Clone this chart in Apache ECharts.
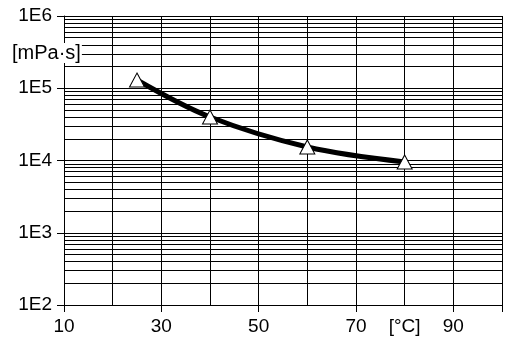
<!DOCTYPE html>
<html>
<head>
<meta charset="utf-8">
<script src="https://cdn.jsdelivr.net/npm/echarts@6/dist/echarts.min.js"></script>
<style>html,body{margin:0;padding:0;background:#fff;}#c{width:505px;height:343px;}</style>
</head>
<body>
<div id="c"></div>
<script>
// Data
const temperatures = [25, 40, 60, 80];          // [°C]
const viscosity = [130000, 40000, 15400, 9550];  // [mPa·s]
const xLabels = {10: '10', 30: '30', 50: '50', 70: '70', 80: '[°C]', 90: '90'};
const yUnit = '[mPa·s]';
const decades = [2, 3, 4, 5];
const minorMultipliers = [2, 3, 4, 5, 6, 7, 8, 9];

const minorValues = [];
decades.forEach(d => minorMultipliers.forEach(m => minorValues.push(m * Math.pow(10, d))));

const FONT = '"Liberation Sans", Arial, sans-serif';
const chart = echarts.init(document.getElementById('c'), null, {renderer: 'canvas'});
chart.setOption({
  animation: false,
  backgroundColor: '#fff',
  grid: {left: 64, right: -4, top: 16, bottom: 38, containLabel: false},
  xAxis: [{
    type: 'value', min: 10, max: 100, interval: 10,
    axisLine: {show: true, lineStyle: {color: '#000', width: 1}},
    axisTick: {show: false},
    splitLine: {show: true, lineStyle: {color: '#000', width: 1}},
    axisLabel: {
      margin: 12, color: '#000', fontSize: 19, fontFamily: FONT,
      formatter: v => xLabels[v] || ''
    }
  }, {
    type: 'value', min: 10, max: 100, interval: 20, position: 'bottom', offset: 0,
    axisLine: {show: true, lineStyle: {color: '#000', width: 1}},
    axisTick: {show: true, inside: false, length: 7, lineStyle: {color: '#000', width: 1}},
    splitLine: {show: false},
    axisLabel: {show: false}
  }],
  yAxis: {
    type: 'log', logBase: 10, min: 100, max: 1000000,
    axisLine: {show: true, lineStyle: {color: '#000', width: 1}},
    axisTick: {show: true, length: 7, lineStyle: {color: '#000', width: 1}},
    splitLine: {show: true, lineStyle: {color: '#000', width: 1}},
    axisLabel: {
      margin: 12, color: '#000', fontSize: 19, fontFamily: FONT,
      formatter: v => '1E' + Math.round(Math.log10(v))
    }
  },
  series: [{
    type: 'line', data: [], z: 1, silent: true,
    markLine: {
      silent: true, symbol: ['none', 'none'], label: {show: false},
      animation: false,
      lineStyle: {color: '#000', width: 1, type: 'solid'},
      data: minorValues.map(v => ({yAxis: v}))
    }
  }, {
    type: 'line', z: 5,
    data: temperatures.map((t, i) => [t, viscosity[i]]),
    smooth: 0.35,
    lineStyle: {color: '#000', width: 5},
    symbol: 'triangle', symbolSize: [15, 14], showAllSymbol: true,
    itemStyle: {color: '#fff', borderColor: '#000', borderWidth: 1}
  }],
  graphic: [{
    type: 'text', left: 11, top: 43, z: 100,
    style: {text: yUnit, fill: '#000', fontSize: 20, fontFamily: FONT, backgroundColor: '#fff', padding: [0, 1]}
  }]
});
</script>
</body>
</html>
